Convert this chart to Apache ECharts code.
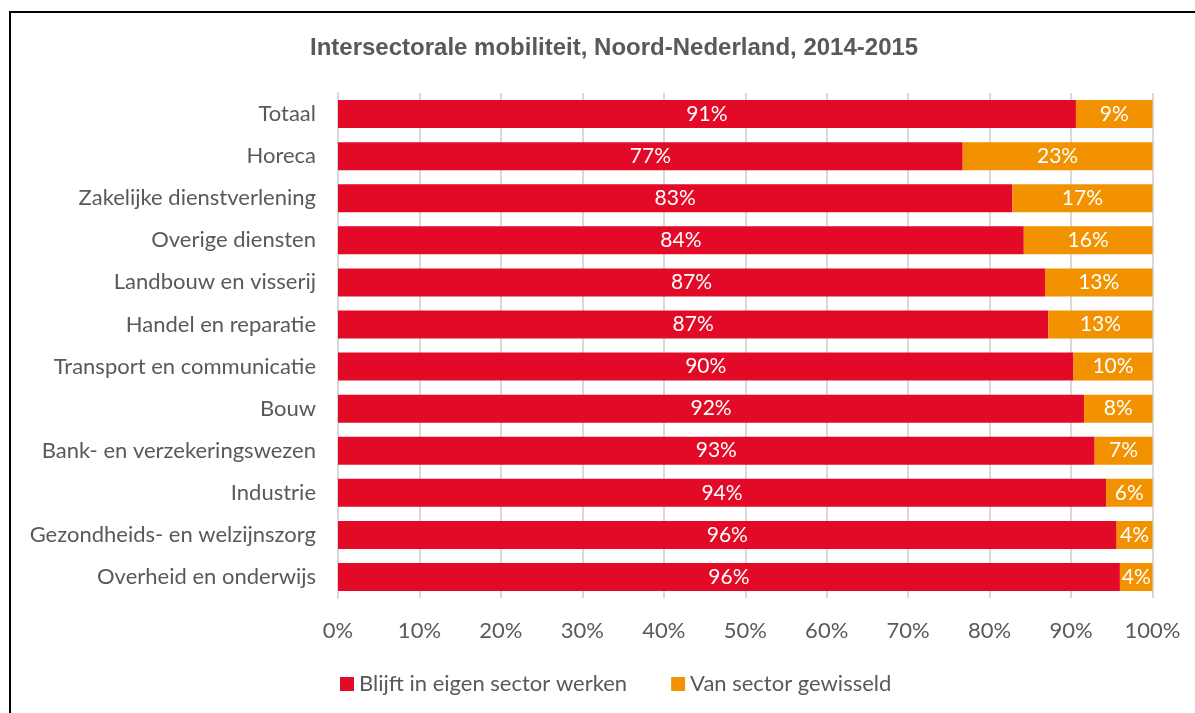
<!DOCTYPE html>
<html>
<head>
<meta charset="utf-8">
<script src="https://cdn.jsdelivr.net/npm/echarts@6/dist/echarts.min.js"></script>
<style>
  html, body { margin: 0; padding: 0; background: #fff; }
  #frame { position: absolute; left: 9px; top: 11px; width: 1300px; height: 800px;
           border-left: 2px solid #000; border-top: 2px solid #000; }
  #chart { position: absolute; left: 0; top: 0; width: 1195px; height: 713px; }
</style>
</head>
<body>
<div id="frame"></div>
<div id="chart"></div>
<script>
// categories from bottom to top (echarts category axis starts at the bottom)
var categories = [
    'Overheid en onderwijs',
    'Gezondheids- en welzijnszorg',
    'Industrie',
    'Bank- en verzekeringswezen',
    'Bouw',
    'Transport en communicatie',
    'Handel en reparatie',
    'Landbouw en visserij',
    'Overige diensten',
    'Zakelijke dienstverlening',
    'Horeca',
    'Totaal'
];
var blijft = [96.0, 95.6, 94.3, 92.9, 91.6, 90.3, 87.2, 86.8, 84.2, 82.8, 76.7, 90.6];
var gewisseld = [4.0, 4.4, 5.7, 7.1, 8.4, 9.7, 12.8, 13.2, 15.8, 17.2, 23.3, 9.4];
var seriesNames = ['Blijft in eigen sector werken', 'Van sector gewisseld'];

var textFont = 'Lato';
var chart = echarts.init(document.getElementById('chart'));

var labelStyle = {
    show: true,
    position: 'inside',
    color: '#fff',
    fontFamily: textFont,
    fontSize: 21,
    formatter: function (p) { return Math.round(p.value) + '%'; }
};

chart.setOption({
    animation: false,
    title: {
        text: 'Intersectorale mobiliteit, Noord-Nederland, 2014-2015',
        left: 305,
        top: 31,
        textStyle: { fontFamily: 'Liberation Sans', fontWeight: 'bold', fontSize: 24, color: '#595959' }
    },
    legend: {
        top: 668,
        left: 335,
        itemWidth: 14,
        itemHeight: 14,
        itemGap: 44,
        icon: 'rect',
        textStyle: { fontFamily: textFont, fontSize: 22, color: '#595959' },
        data: seriesNames
    },
    grid: { left: 338, right: 42.5, top: 93, bottom: 115 },
    xAxis: {
        type: 'value',
        min: 0,
        max: 100,
        interval: 10,
        axisLine: { show: false },
        axisTick: { show: false },
        splitLine: { lineStyle: { color: '#d9d9d9', width: 2 } },
        axisLabel: {
            margin: 22,
            fontFamily: textFont,
            fontSize: 22,
            color: '#595959',
            formatter: '{value}%'
        }
    },
    yAxis: {
        type: 'category',
        data: categories,
        axisLine: { show: true, lineStyle: { color: '#d9d9d9', width: 2 } },
        axisTick: { show: false },
        axisLabel: { margin: 22, fontFamily: textFont, fontSize: 22, color: '#595959' }
    },
    series: [
        {
            name: seriesNames[0],
            type: 'bar',
            stack: 'totaal',
            barWidth: 28,
            itemStyle: { color: '#E30A28' },
            label: labelStyle,
            data: blijft
        },
        {
            name: seriesNames[1],
            type: 'bar',
            stack: 'totaal',
            barWidth: 28,
            itemStyle: { color: '#F39200' },
            label: labelStyle,
            data: gewisseld
        }
    ]
});
</script>
</body>
</html>
